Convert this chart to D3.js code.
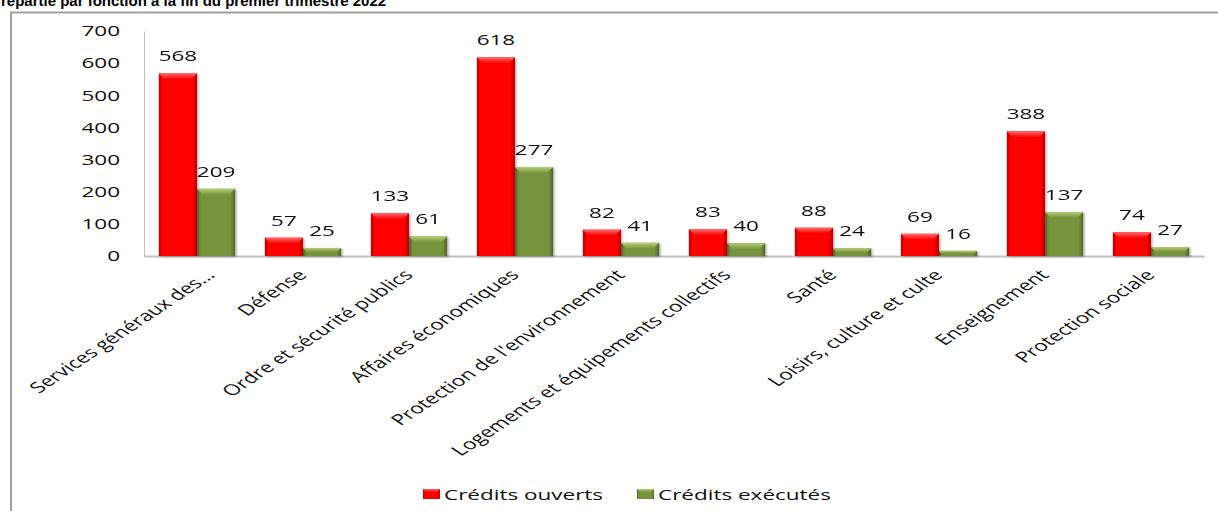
<!DOCTYPE html>
<html>
<head>
<meta charset="utf-8">
<script src="https://cdn.jsdelivr.net/npm/d3@7"></script>
<style>
  body { margin: 0; background: #fff; }
  svg { display: block; }
  .txt { font-family: "Open Sans", sans-serif; font-size: 15px; fill: #111; }
</style>
</head>
<body>
<div id="grafico"></div>
<script>
var titre = "répartie par fonction à la fin du premier trimestre 2022";
var categories = ["Services généraux des...", "Défense", "Ordre et sécurité publics",
    "Affaires économiques", "Protection de l'environnement",
    "Logements et équipements collectifs", "Santé", "Loisirs, culture et culte",
    "Enseignement", "Protection sociale"];
var ouverts = [568, 57, 133, 618, 82, 83, 88, 69, 388, 74];
var executes = [209, 25, 61, 277, 41, 40, 24, 16, 137, 27];
var series = ["Crédits ouverts", "Crédits exécutés"];
var yTicks = [0, 100, 200, 300, 400, 500, 600, 700];

var Main = (function() {

    var largeur = 1218,
        hauteur = 511,
        etire = 1.5,   // the picture is stretched horizontally
        cores = {
            "Crédits ouverts": { base: "#ff0000", bord: "#b80000", haut: "#ff6a6a" },
            "Crédits exécutés": { base: "#77933c", bord: "#4f6228", haut: "#b3cf78" }
        };

    function inicializa() {
        var svg = d3.select("#grafico").append("svg")
            .attr("width", largeur)
            .attr("height", hauteur);

        _defs(svg);

        svg.append("text").text(titre)
            .attr("x", 1).attr("y", 6)
            .style("font-family", "'Liberation Sans', Arial, sans-serif")
            .style("font-weight", "bold")
            .style("font-size", "15px")
            .style("fill", "#000");

        svg.append("rect")
            .attr("x", 11).attr("y", 12.5)
            .attr("width", 1300).attr("height", 520)
            .attr("fill", "none")
            .attr("stroke", "#a0a0a0")
            .attr("stroke-width", 2);

        var x = d3.scaleBand().domain(categories).range([144, 1204])
            .paddingInner(0.28).paddingOuter(0.14);
        var y = d3.scaleLinear().domain([0, 700]).range([256, 31]);

        var axeY = svg.append("g").attr("transform", "translate(144,0)")
            .call(d3.axisLeft(y).tickValues(yTicks).tickSize(0).tickSizeOuter(0).tickPadding(24));
        axeY.select(".domain").attr("stroke", "#bfbfbf");
        axeY.selectAll("text")
            .attr("class", "txt")
            .attr("x", -24 / etire)
            .attr("transform", "scale(" + etire + ",1)")
            .style("font-family", null).style("font-size", null)
            .attr("fill", null);

        var axeX = svg.append("g").attr("transform", "translate(0,256)")
            .call(d3.axisBottom(x).tickSize(0).tickSizeOuter(0).tickFormat(""));
        axeX.select(".domain").attr("stroke", "#bfbfbf").attr("stroke-width", 2);

        _barres(svg, x, y, ouverts, series[0], 0);
        _barres(svg, x, y, executes, series[1], 1);

        // category labels, rotated
        svg.append("g").selectAll("g")
            .data(categories).join("g")
            .attr("transform", function(d) {
                var dx = d.slice(-3) === "..." ? 19 : 5;
                return "translate(" + (x(d) + x.bandwidth() / 2 + dx) + ",276)";
            })
            .append("text")
            .attr("class", "txt")
            .attr("text-anchor", "end")
            .attr("transform", "scale(" + etire + ",1) rotate(-45)")
            .text(function(d) { return d; });

        _legende(svg);
    }

    function _barres(svg, x, y, valeurs, serie, pos) {
        var id = pos === 0 ? "r" : "v",
            w = x.bandwidth() / 2;

        var g = svg.append("g").attr("filter", "url(#ombre)");
        var barre = g.selectAll("g")
            .data(valeurs).join("g")
            .attr("transform", function(d, i) {
                return "translate(" + (x(categories[i]) + pos * w) + "," + y(d) + ")";
            });

        barre.append("rect")
            .attr("width", w)
            .attr("height", function(d) { return y(0) - y(d); })
            .attr("fill", "url(#grad-" + id + ")");

        barre.append("path")
            .attr("fill", "url(#haut-" + id + ")")
            .attr("d", function(d) {
                var b = Math.min(6, (y(0) - y(d)) / 2);
                return "M0,0H" + w + "L" + (w - b) + "," + b + "H" + b + "Z";
            });

        svg.append("g").selectAll("text")
            .data(valeurs).join("text")
            .attr("class", "txt")
            .attr("text-anchor", "middle")
            .attr("transform", function(d, i) {
                return "translate(" + (x(categories[i]) + pos * w + w / 2) + "," + (y(d) - 12) + ") scale(" + etire + ",1)";
            })
            .text(function(d) { return d; });
    }

    function _defs(svg) {
        var defs = svg.append("defs");
        var f = defs.append("filter").attr("id", "ombre")
            .attr("x", "-20%").attr("y", "-20%").attr("width", "140%").attr("height", "140%");
        f.append("feDropShadow").attr("dx", 1.5).attr("dy", 1).attr("stdDeviation", 1)
            .attr("flood-color", "#000").attr("flood-opacity", 0.3);

        [["r", series[0]], ["v", series[1]]].forEach(function(p) {
            var c = cores[p[1]];
            var lg = defs.append("linearGradient").attr("id", "grad-" + p[0])
                .attr("x1", 0).attr("x2", 1).attr("y1", 0).attr("y2", 0);
            lg.append("stop").attr("offset", 0).attr("stop-color", c.bord);
            lg.append("stop").attr("offset", 0.1).attr("stop-color", c.base);
            lg.append("stop").attr("offset", 0.88).attr("stop-color", c.base);
            lg.append("stop").attr("offset", 1).attr("stop-color", c.bord);

            var hg = defs.append("linearGradient").attr("id", "haut-" + p[0])
                .attr("x1", 0).attr("x2", 0).attr("y1", 0).attr("y2", 1);
            hg.append("stop").attr("offset", 0).attr("stop-color", c.haut);
            hg.append("stop").attr("offset", 1).attr("stop-color", c.base);
        });
    }

    function _legende(svg) {
        var posX = [423, 637];
        var item = svg.append("g").selectAll("g")
            .data(series).join("g")
            .attr("transform", function(d, i) { return "translate(" + posX[i] + ",489)"; });

        item.append("rect")
            .attr("width", 17).attr("height", 10)
            .attr("fill", function(d, i) { return i === 0 ? "url(#grad-r)" : "url(#grad-v)"; });
        item.append("path")
            .attr("d", "M0,0H17L14,3H3Z")
            .attr("fill", function(d, i) { return i === 0 ? "url(#haut-r)" : "url(#haut-v)"; });

        item.append("text")
            .attr("class", "txt")
            .attr("transform", "translate(21,10.5) scale(" + etire + ",1)")
            .text(function(d) { return d; });
    }

    return {
        inicializa: inicializa
    };

})();

Main.inicializa();
</script>
</body>
</html>
